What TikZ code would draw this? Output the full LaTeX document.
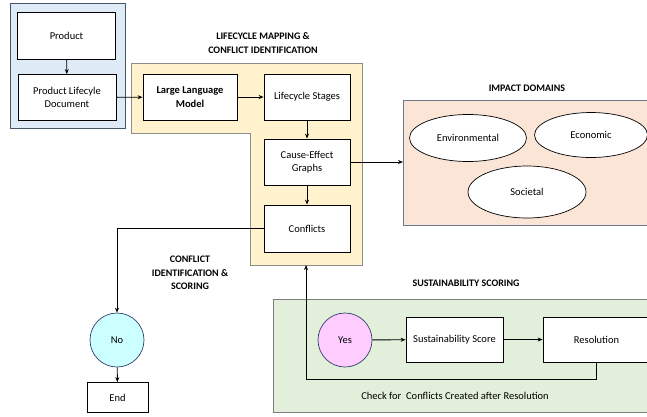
\documentclass[tikz,border=0pt]{standalone}
\usepackage{fontspec}
\setmainfont{Carlito}
\usetikzlibrary{arrows.meta,shapes.geometric,positioning}
\definecolor{bluefill}{HTML}{DEEBF7}
\definecolor{blueline}{HTML}{44546A}
\definecolor{orangefill}{HTML}{FFF2CC}
\definecolor{orangeline}{HTML}{8C8C8C}
\definecolor{peachfill}{HTML}{FBE5D6}
\definecolor{peachline}{HTML}{6E7A8C}
\definecolor{greenfill}{HTML}{E2EFDA}
\definecolor{greenline}{HTML}{7F7F7F}
\definecolor{cyanfill}{HTML}{CCFFFF}
\definecolor{pinkfill}{HTML}{FFCCFF}
\definecolor{circleline}{HTML}{2F3F6F}
\tikzset{
  box/.style={draw=black, fill=white, line width=0.8pt, align=center, inner sep=1pt, font=\fontsize{10.5}{13.5}\selectfont},
  oval/.style={ellipse, draw=black, fill=white, line width=0.7pt, font=\fontsize{10.5}{12}\selectfont, inner sep=0pt},
  circ/.style={circle, draw=circleline, line width=0.7pt, minimum size=54pt, inner sep=0pt, font=\fontsize{10.5}{12}\selectfont},
  title/.style={font=\bfseries\fontsize{10}{13.5}\selectfont, align=center},
  plain/.style={font=\fontsize{10.5}{12}\selectfont},
  conn/.style={line width=0.9pt, -{Stealth[length=5pt,width=4pt]}},
  line/.style={line width=0.9pt}
}
\begin{document}
\begin{tikzpicture}[x=1pt,y=-1pt]
\useasboundingbox (0,0) rectangle (647,416);
\clip (0,0) rectangle (647,416);
% containers
\draw[fill=bluefill, draw=blueline, line width=0.8pt] (10,3) rectangle (125,128);
\draw[fill=orangefill, draw=orangeline, line width=0.8pt] (131,63) -- (362,63) -- (362,265) -- (250,265) -- (250,133) -- (131,133) -- cycle;
\draw[fill=peachfill, draw=peachline, line width=0.8pt] (403,100) rectangle (670,225);
\draw[fill=greenfill, draw=greenline, line width=0.8pt] (273,299) rectangle (670,412);
% titles
\node[title] (t1) at (263,43) {LIFECYCLE MAPPING \&\\CONFLICT IDENTIFICATION};
\node[title] (t2) at (527,88) {IMPACT DOMAINS};
\node[title] (t3) at (190,273) {CONFLICT\\IDENTIFICATION \&\\SCORING};
\node[title] (t4) at (466,283) {SUSTAINABILITY SCORING};
% boxes
\node[box, minimum width=98pt, minimum height=47pt] (product) at (66.5,36) {Product};
\node[box, minimum width=98pt, minimum height=46pt] (pld) at (67,97.5) {Product Lifecyle\\Document};
\node[box, minimum width=94pt, minimum height=46pt, font=\bfseries\fontsize{10.5}{13.5}\selectfont] (llm) at (190,97) {Large Language\\Model};
\node[box, minimum width=86pt, minimum height=46pt] (stages) at (307,97) {Lifecycle Stages};
\node[box, minimum width=86pt, minimum height=46pt] (cause) at (307,162) {Cause-Effect\\Graphs};
\node[box, minimum width=86pt, minimum height=47pt] (conflicts) at (307,228.5) {Conflicts};
% ellipses
\node[oval, minimum width=117pt, minimum height=47pt] (env) at (468,138) {Environmental};
\node[oval, minimum width=113pt, minimum height=45pt] (eco) at (591,135) {Economic};
\node[oval, minimum width=118pt, minimum height=52pt] (soc) at (527,192) {Societal};
% decisions
\node[circ, fill=cyanfill] (no) at (117,340) {No};
\node[box, minimum width=61pt, minimum height=30pt] (end) at (117.5,397.5) {End};
\node[circ, fill=pinkfill] (yes) at (345,340) {Yes};
\node[box, minimum width=97pt, minimum height=45pt] (score) at (454.5,339.5) {Sustainability Score};
\node[box, minimum width=107pt, minimum height=45pt] (res) at (596.5,339.5) {Resolution};
\node[plain] (check) at (455,396) {Check for\ \ Conflicts Created after Resolution};
\coordinate (impact) at (403,162);
\coordinate (obottom) at (306,265);
% connectors
\draw[conn] (product) -- (pld);
\draw[conn] (pld) -- (llm);
\draw[conn] (llm) -- (stages);
\draw[conn] (stages) -- (cause);
\draw[conn] (cause) -- (conflicts);
\draw[conn] (cause.east) -- (impact);
\draw[conn] (conflicts.west) -| (no.north);
\draw[conn] (no) -- (end);
\draw[conn] (yes) -- (score);
\draw[conn] (score) -- (res);
\draw[conn] (res.south) -- ++(0,17) -| (obottom);
\end{tikzpicture}
\end{document}
